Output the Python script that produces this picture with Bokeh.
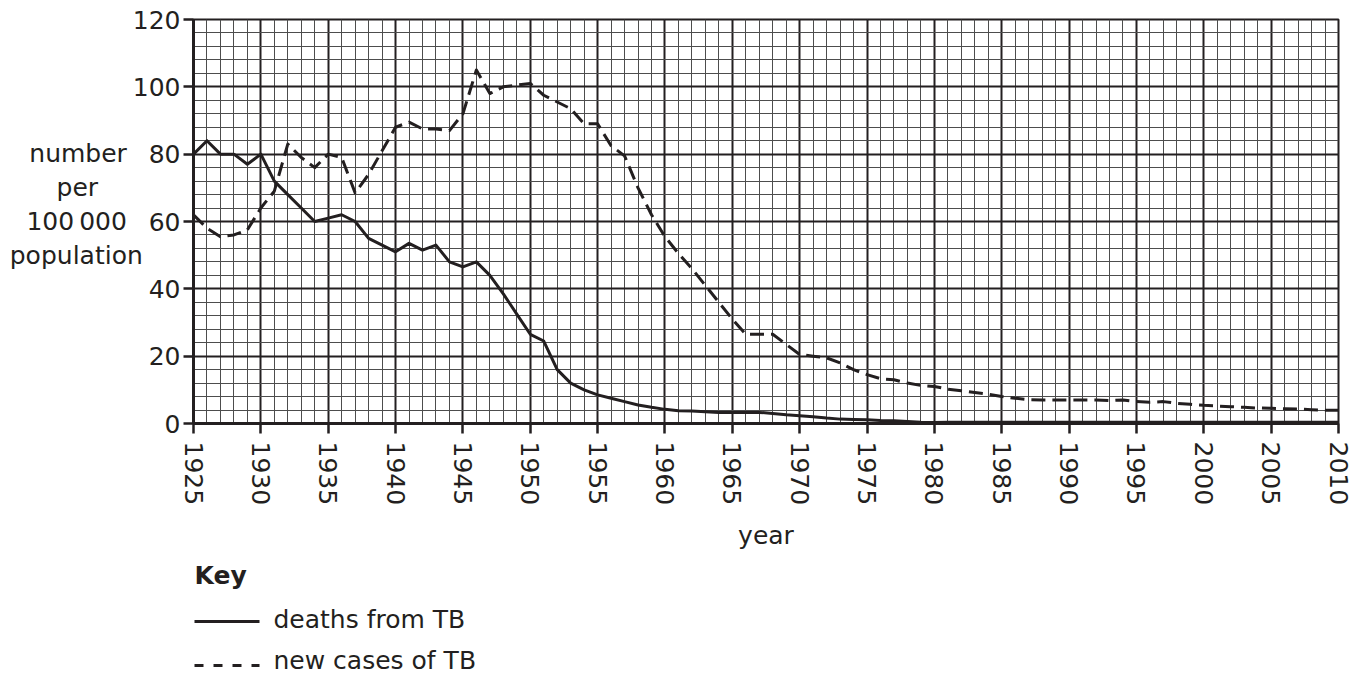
from bokeh.plotting import figure
from bokeh.layouts import column
from bokeh.models import Range1d, SingleIntervalTicker, Label
from bokeh.embed import file_html
from bokeh.resources import INLINE

# ---------------- data ----------------
years = list(range(1925, 2011))

deaths_from_tb = [
    80, 84, 80, 80, 77, 80, 72, 68, 64, 60,          # 1925-1934
    61, 62, 60, 55, 53, 51, 53.5, 51.5, 53, 48,      # 1935-1944
    46.5, 48, 44, 38.5, 32.5, 26.5, 24.5, 16, 12, 10,  # 1945-1954
    8.5, 7.5, 6.5, 5.5, 4.8, 4.2, 3.8, 3.7, 3.5, 3.3,  # 1955-1964
    3.3, 3.3, 3.3, 3.0, 2.6, 2.3, 2.0, 1.6, 1.3, 1.2,  # 1965-1974
    1.1, 0.9, 0.8, 0.6, 0.4, 0.3, 0.4, 0.4, 0.4, 0.4,  # 1975-1984
    0.4, 0.4, 0.4, 0.4, 0.4, 0.4, 0.4, 0.4, 0.4, 0.4,  # 1985-1994
    0.4, 0.4, 0.4, 0.4, 0.4, 0.4, 0.4, 0.4, 0.4, 0.4,  # 1995-2004
    0.4, 0.4, 0.4, 0.4, 0.4, 0.4,                      # 2005-2010
]

new_cases_of_tb = [
    62, 58, 55.5, 56, 57.5, 64, 69, 83, 79, 76,        # 1925-1934
    80, 79, 68.5, 74, 81, 88, 89.5, 87.5, 87.5, 87,    # 1935-1944
    92, 105, 98, 100, 100.5, 101, 97.5, 95.5, 93.5, 89,  # 1945-1954
    89, 82.5, 79.5, 70, 62, 55.5, 50.5, 46, 41, 36,    # 1955-1964
    31, 26.5, 26.5, 26.5, 23.5, 20.5, 20, 19.5, 18, 16,  # 1965-1974
    14.5, 13.3, 13, 12, 11.3, 11, 10.2, 9.7, 9.2, 8.7,   # 1975-1984
    8.0, 7.5, 7.1, 7.0, 7.0, 7.0, 7.0, 7.0, 6.8, 7.0,    # 1985-1994
    6.5, 6.3, 6.5, 6.0, 5.7, 5.4, 5.2, 5.0, 4.8, 4.6,    # 1995-2004
    4.5, 4.4, 4.3, 4.1, 3.9, 3.9,                        # 2005-2010
]

x_start, x_end = 1925, 2010
y_start, y_end = 0, 120

# y title lines (the axis draws multi-line labels right-aligned; the
# no-break spaces pad the shorter lines so that they sit centred)
NB, TH = "\u00a0", "\u2009"
y_title = ("number" + NB * 2 + "\n"
           + "per" + NB * 5 + TH + "\n"
           + "100" + TH + "000" + NB * 2 + "\n"
           + "population" + "\n")
x_title = "year"
key_title = "Key"
series_names = ["deaths from TB", "new cases of TB"]

# ---------------- style ----------------
INK = "#231f20"
FONT = "DejaVu Sans"
FS = "25px"
W = 1360
H_MAIN = 556
H_KEY = 120
LEFT, RIGHT, TOP = 193, 22, 19
FRAME_BOTTOM = 423

p = figure(
    width=W, height=H_MAIN,
    output_backend="svg", toolbar_location=None,
    x_range=Range1d(x_start, x_end), y_range=Range1d(y_start, y_end),
    min_border_left=LEFT, min_border_right=RIGHT,
    min_border_top=TOP, min_border_bottom=H_MAIN - FRAME_BOTTOM,
)
p.background_fill_color = "white"
p.border_fill_color = "white"
p.outline_line_color = INK
p.outline_line_width = 2

xt = SingleIntervalTicker(interval=5, num_minor_ticks=5)
yt = SingleIntervalTicker(interval=20, num_minor_ticks=5)
p.xaxis.ticker = xt
p.yaxis.ticker = yt
p.xgrid.ticker = xt
p.ygrid.ticker = yt

for g in (p.xgrid, p.ygrid):
    g.grid_line_color = INK
    g.grid_line_width = 2
    g.minor_grid_line_color = "#4d4d4d"
    g.minor_grid_line_width = 1

for ax in (p.xaxis, p.yaxis):
    ax.axis_line_color = INK
    ax.axis_line_width = 3
    ax.major_tick_line_color = INK
    ax.major_tick_line_width = 2.5
    ax.major_tick_in = 0
    ax.major_tick_out = 10
    ax.minor_tick_line_color = None
    ax.major_label_text_font = FONT
    ax.major_label_text_font_size = FS
    ax.major_label_text_color = INK
    ax.axis_label_text_font = FONT
    ax.axis_label_text_font_size = FS
    ax.axis_label_text_font_style = "normal"
    ax.axis_label_text_color = INK

p.yaxis.major_label_standoff = 3
p.xaxis.major_label_standoff = 8
p.xaxis.major_label_orientation = "vertical"

p.xaxis.axis_label = x_title
p.xaxis.axis_label_standoff = 13

p.yaxis.axis_label = y_title
p.yaxis.axis_label_orientation = "horizontal"
p.yaxis.axis_label_text_align = "center"
p.yaxis.axis_label_text_line_height = 1.17
p.yaxis.axis_label_standoff = -13

# ---------------- series ----------------
p.line(years, deaths_from_tb, line_color=INK, line_width=3, line_join="round")
p.line(years, new_cases_of_tb, line_color=INK, line_width=3, line_dash="14 7",
       line_join="round")

# ---------------- key (second panel, ranges equal to page pixels) ----------------
k = figure(
    width=W, height=H_KEY,
    output_backend="svg", toolbar_location=None,
    x_range=Range1d(LEFT, W - RIGHT), y_range=Range1d(H_MAIN + H_KEY, H_MAIN),
    x_axis_location=None, y_axis_location=None,
    min_border_left=LEFT, min_border_right=RIGHT, min_border_top=0, min_border_bottom=0,
)
k.grid.visible = False
k.outline_line_color = None
k.background_fill_color = "white"
k.border_fill_color = "white"

KX = LEFT + 1
TXT_SHIFT = -9  # labels sit ~9 px lower than the requested baseline
k.add_layout(Label(x=KX, y=584 + TXT_SHIFT, text=key_title, text_align="left",
                   text_baseline="alphabetic", text_font=FONT, text_font_size=FS,
                   text_font_style="bold", text_color=INK))
k.line([KX, 259], [621, 621], line_color=INK, line_width=3)
k.add_layout(Label(x=273, y=628 + TXT_SHIFT, text=series_names[0], text_align="left",
                   text_baseline="alphabetic", text_font=FONT, text_font_size=FS,
                   text_color=INK))
k.line([KX, 259], [665, 665], line_color=INK, line_width=3, line_dash="9 10")
k.add_layout(Label(x=273, y=669 + TXT_SHIFT, text=series_names[1], text_align="left",
                   text_baseline="alphabetic", text_font=FONT, text_font_size=FS,
                   text_color=INK))

layout = column(p, k, spacing=0)
open("out.html", "w").write(file_html(layout, INLINE))
